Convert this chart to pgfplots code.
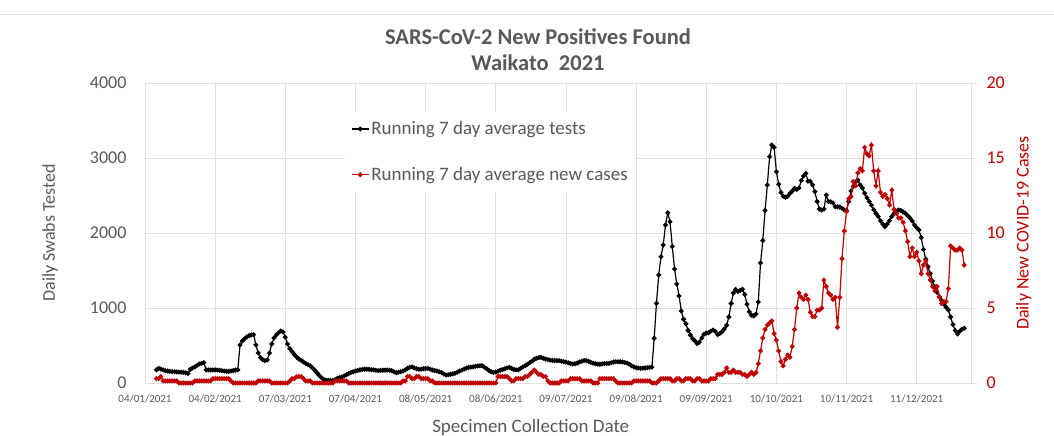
\documentclass[border=0pt]{standalone}
\usepackage{pgfplots}
\pgfplotsset{compat=1.18}
\usepackage{fontspec}
\setmainfont{Carlito}
\definecolor{txtgray}{HTML}{595959}
\definecolor{cred}{HTML}{C00000}
\definecolor{gridc}{HTML}{E0E0E0}
\begin{document}
\begin{tikzpicture}
\useasboundingbox (0pt,0pt) rectangle (1054pt,436pt);
\draw[gridc, line width=0.8pt] (0pt,422pt) -- (1054pt,422pt);
\node[font=\bfseries\fontsize{22.5}{26}\selectfont, text=txtgray] at (538pt,399pt) {SARS-CoV-2 New Positives Found};
\node[font=\bfseries\fontsize{22.5}{26}\selectfont, text=txtgray] at (538pt,373pt) {Waikato\hspace{0.45em}2021};
\begin{axis}[
 at={(145pt,53pt)}, anchor=south west,
 width=826pt, height=300pt, scale only axis,
 xmin=0, xmax=365, ymin=0, ymax=4000,
 xtick={0,31,62,93,124,155,186,217,248,279,310,341},
 xticklabels={04/01/2021,04/02/2021,07/03/2021,07/04/2021,08/05/2021,08/06/2021,09/07/2021,09/08/2021,09/09/2021,10/10/2021,10/11/2021,11/12/2021},
 ytick={0,1000,2000,3000,4000},
 scaled y ticks=false,
 /pgf/number format/.cd, 1000 sep={}, assume math mode=true,
 /pgfplots/.cd,
 grid=major, major grid style={gridc, line width=0.8pt},
 axis line style={gridc, line width=0.8pt},
 major tick length=0pt,
 xticklabel style={font=\fontsize{11}{13}\selectfont, text=txtgray, yshift=-8pt},
 yticklabel style={font=\fontsize{18}{21}\selectfont, text=txtgray, xshift=-15pt},
 ylabel={Daily Swabs Tested},
 ylabel style={at={(axis description cs:-0.115,0.5)}, anchor=center, font=\fontsize{18}{21}\selectfont, text=txtgray},
 xlabel={Specimen Collection Date},
 xlabel style={at={(axis description cs:0.467,-0.147)}, anchor=center, font=\fontsize{19}{22}\selectfont, text=txtgray},
 legend style={at={(0.242,0.905)}, anchor=north west, draw=none, fill=white, font=\fontsize{19}{22}\selectfont, text=txtgray, row sep=27pt, inner xsep=6pt, inner ysep=8pt},
 legend cell align=left,
]
\addplot[black, line width=1.2pt, mark=*, mark size=1.8pt] coordinates {
(5,175)(6,195)(7,185)(8,175)(9,165)(10,160)(11,155)(12,152)(13,150)(14,148)(15,145)(16,143)(17,142)(18,135)(19,128)
(20,182)(21,200)(22,215)(23,235)(24,253)(25,262)(26,271)(27,175)(28,175)(29,173)(30,174)(31,175)(32,172)(33,170)(34,165)
(35,160)(36,157)(37,155)(38,160)(39,165)(40,172)(41,175)(42,507)(43,560)(44,590)(45,615)(46,631)(47,640)(48,645)(49,507)
(50,400)(51,340)(52,310)(53,298)(54,307)(55,400)(56,520)(57,600)(58,640)(59,671)(60,693)(61,680)(62,610)(63,520)(64,460)
(65,420)(66,380)(67,345)(68,320)(69,300)(70,280)(71,262)(72,245)(73,230)(74,200)(75,170)(76,135)(77,100)(78,70)(79,45)
(80,38)(81,35)(82,33)(83,31)(84,45)(85,60)(86,70)(87,80)(88,95)(89,110)(90,125)(91,140)(92,150)(93,160)(94,168)
(95,175)(96,180)(97,185)(98,183)(99,182)(100,178)(101,175)(102,170)(103,165)(104,168)(105,170)(106,172)(107,173)(108,170)(109,165)
(110,150)(111,137)(112,142)(113,150)(114,160)(115,173)(116,195)(117,210)(118,215)(119,200)(120,190)(121,182)(122,185)(123,190)(124,193)
(125,195)(126,185)(127,173)(128,166)(129,160)(130,150)(131,140)(132,120)(133,107)(134,110)(135,115)(136,122)(137,130)(138,145)(139,160)
(140,172)(141,185)(142,198)(143,209)(144,212)(145,215)(146,222)(147,227)(148,230)(149,231)(150,210)(151,190)(152,165)(153,150)(154,140)
(155,145)(156,158)(157,170)(158,180)(159,190)(160,200)(161,209)(162,195)(163,180)(164,175)(165,175)(166,195)(167,215)(168,230)(169,250)
(170,270)(171,290)(172,315)(173,330)(174,338)(175,342)(176,330)(177,320)(178,312)(179,305)(180,302)(181,300)(182,299)(183,298)(184,290)
(185,284)(186,278)(187,270)(188,260)(189,253)(190,258)(191,265)(192,280)(193,290)(194,300)(195,300)(196,288)(197,275)(198,265)(199,258)
(200,252)(201,250)(202,254)(203,258)(204,260)(205,262)(206,270)(207,280)(208,284)(209,284)(210,282)(211,280)(212,272)(213,265)(214,250)
(215,230)(216,215)(217,205)(218,200)(219,195)(220,198)(221,200)(222,205)(223,208)(224,212)(225,596)(226,1062)(227,1440)(228,1684)(229,1840)
(230,2107)(231,2270)(232,2150)(233,1820)(234,1520)(235,1320)(236,1160)(237,960)(238,850)(239,790)(240,700)(241,640)(242,590)(243,560)(244,525)
(245,545)(246,600)(247,650)(248,665)(249,671)(250,690)(251,707)(252,690)(253,645)(254,660)(255,684)(256,720)(257,770)(258,880)(259,1060)
(260,1200)(261,1249)(262,1220)(263,1235)(264,1249)(265,1180)(266,1050)(267,950)(268,905)(269,895)(270,920)(271,1080)(272,1600)(273,1900)(274,2300)
(275,2640)(276,3018)(277,3173)(278,3142)(279,2817)(280,2650)(281,2540)(282,2490)(283,2475)(284,2490)(285,2530)(286,2560)(287,2595)(288,2580)(289,2600)
(290,2700)(291,2760)(292,2795)(293,2690)(294,2690)(295,2640)(296,2551)(297,2420)(298,2320)(299,2306)(300,2320)(301,2507)(302,2420)(303,2417)(304,2400)
(305,2351)(306,2350)(307,2345)(308,2330)(309,2306)(310,2300)(311,2420)(312,2560)(313,2620)(314,2680)(315,2706)(316,2640)(317,2600)(318,2530)(319,2470)
(320,2420)(321,2370)(322,2310)(323,2262)(324,2220)(325,2164)(326,2120)(327,2084)(328,2120)(329,2164)(330,2220)(331,2262)(332,2290)(333,2306)(334,2300)
(335,2280)(336,2262)(337,2230)(338,2200)(339,2160)(340,2107)(341,2070)(342,2040)(343,1940)(344,1780)(345,1650)(346,1551)(347,1460)(348,1360)(349,1284)
(350,1210)(351,1151)(352,1100)(353,1053)(354,1010)(355,973)(356,880)(357,780)(358,700)(359,653)(360,690)(361,715)(362,729)
};
\addlegendentry{Running 7 day average tests}
\addlegendimage{cred, line width=1.2pt, mark=*, mark size=1.8pt}
\addlegendentry{Running 7 day average new cases}
\end{axis}
\begin{axis}[
 at={(145pt,53pt)}, anchor=south west,
 width=826pt, height=300pt, scale only axis,
 xmin=0, xmax=365, ymin=0, ymax=20,
 axis x line=none, axis y line*=right,
 ytick={0,5,10,15,20},
 /pgf/number format/assume math mode=true,
 axis line style={gridc, line width=0.8pt},
 tick align=outside, major tick length=6pt, ytick style={gridc, line width=0.8pt},
 yticklabel style={font=\fontsize{18}{21}\selectfont, text=cred, anchor=west, xshift=6pt},
 ylabel={Daily New COVID-19 Cases},
 ylabel style={at={(axis description cs:1.064,0.5)}, anchor=center, rotate=0, font=\fontsize{18}{21}\selectfont, text=cred},
]
\addplot[cred, line width=1.2pt, mark=*, mark size=1.8pt] coordinates {
(5,0.29)(6,0.29)(7,0.43)(8,0.14)(9,0.14)(10,0.14)(11,0.14)(12,0.14)(13,0.14)(14,0.14)(15,0)(16,0)(17,0)(18,0)(19,0)(20,0)(21,0)
(22,0.14)(23,0.14)(24,0.14)(25,0.14)(26,0.14)(27,0.14)(28,0.14)(29,0.14)(30,0.29)(31,0.29)(32,0.29)(33,0.29)(34,0.29)(35,0.29)(36,0.29)(37,0.29)
(38,0.14)(39,0)(40,0)(41,0)(42,0)(43,0)(44,0)(45,0)(46,0)(47,0)(48,0)(49,0)(50,0.14)(51,0.14)(52,0.14)(53,0.14)(54,0.14)(55,0.14)
(56,0)(57,0)(58,0)(59,0)(60,0)(61,0)(62,0)(63,0)(64,0.14)(65,0.29)(66,0.29)(67,0.43)(68,0.43)(69,0.43)(70,0.29)(71,0.14)(72,0.14)(73,0.14)
(74,0)(75,0)(76,0)(77,0)(78,0)(79,0)(80,0)(81,0)(82,0)(83,0)(84,0.14)(85,0.14)(86,0.14)(87,0.14)(88,0.14)(89,0.14)
(90,0)(91,0)(92,0)(93,0)(94,0)(95,0)(96,0)(97,0)(98,0)(99,0)(100,0)(101,0)(102,0)(103,0)(104,0)(105,0)(106,0)(107,0)(108,0)(109,0)(110,0)(111,0)(112,0)(113,0)
(114,0.14)(115,0.14)(116,0.43)(117,0.43)(118,0.29)(119,0.29)(120,0.43)(121,0.43)(122,0.29)(123,0.29)(124,0.29)(125,0.29)(126,0.14)(127,0.14)
(128,0)(129,0)(130,0)(131,0)(132,0)(133,0)(134,0)(135,0)(136,0)(137,0)(138,0)(139,0)(140,0)(141,0)(142,0)(143,0)(144,0)(145,0)(146,0)(147,0)
(148,0)(149,0)(150,0)(151,0)(152,0)(153,0)(154,0)(155,0)(156,0.43)(157,0.43)(158,0.43)(159,0.43)(160,0.43)
(161,0.29)(162,0.14)(163,0.14)(164,0.29)(165,0.29)(166,0.29)(167,0.29)(168,0.43)(169,0.43)(170,0.57)(171,0.71)(172,0.86)(173,0.71)(174,0.57)(175,0.57)(176,0.43)(177,0.43)
(178,0.14)(179,0)(180,0)(181,0)(182,0)(183,0)(184,0.14)(185,0.14)(186,0.14)(187,0.14)(188,0.29)(189,0.29)(190,0.29)(191,0.29)(192,0.29)(193,0.14)(194,0.14)(195,0.14)(196,0.14)(197,0.14)
(198,0)(199,0)(200,0)(201,0.29)(202,0.29)(203,0.29)(204,0.29)(205,0.29)(206,0.29)(207,0.29)(208,0.14)(209,0)(210,0)(211,0)(212,0)(213,0)(214,0)(215,0)
(216,0.14)(217,0.14)(218,0.14)(219,0.14)(220,0.14)(221,0.14)(222,0.14)(223,0.14)(224,0)(225,0)(226,0)(227,0.14)
(228,0.29)(229,0.29)(230,0.29)(231,0.29)(232,0.29)(233,0.14)(234,0.14)(235,0.29)(236,0.29)(237,0.14)(238,0.14)(239,0.29)(240,0.29)(241,0.29)(242,0.14)(243,0.14)(244,0.29)(245,0.29)(246,0.14)(247,0.14)(248,0.14)(249,0.14)(250,0.29)(251,0.29)(252,0.29)(253,0.57)(254,0.57)(255,0.57)
(256,0.71)(257,1.0)(258,0.71)(259,0.71)(260,0.86)(261,0.71)(262,0.71)(263,0.71)(264,0.57)(265,0.57)(266,0.43)(267,0.57)(268,0.71)(269,0.57)(270,0.71)
(271,1.29)(272,2.14)(273,3.0)(274,3.57)(275,3.86)(276,4.0)(277,4.14)(278,3.29)(279,2.86)(280,2.14)(281,1.43)(282,1.14)(283,1.57)(284,1.86)(285,1.71)
(286,2.43)(287,3.57)(288,5.0)(289,6.0)(290,5.71)(291,5.57)(292,5.86)(293,5.57)(294,4.71)(295,4.43)(296,4.43)(297,4.86)(298,4.86)(299,5.0)(300,6.86)
(301,6.43)(302,6.0)(303,5.86)(304,5.57)(305,5.71)(306,3.71)(307,5.71)(308,8.29)(309,10.14)(310,11.43)(311,12.29)(312,12.43)(313,13.43)(314,13.14)(315,14.0)
(316,14.29)(317,14.14)(318,15.71)(319,15.29)(320,15.14)(321,15.86)(322,14.14)(323,13.14)(324,14.14)(325,12.71)(326,12.43)(327,12.57)(328,12.29)(329,11.86)(330,12.86)
(331,11.57)(332,11.29)(333,11.0)(334,11.0)(335,10.71)(336,10.14)(337,9.43)(338,8.43)(339,9.0)(340,8.43)(341,8.71)(342,8.14)(343,7.29)(344,7.86)(345,8.14)
(346,7.29)(347,6.86)(348,6.43)(349,6.14)(350,6.43)(351,5.71)(352,5.29)(353,5.43)(354,5.43)(355,6.29)(356,9.14)(357,9.0)(358,8.86)(359,8.86)(360,9.0)
(361,8.86)(362,7.86)
};
\end{axis}
\end{tikzpicture}
\end{document}
